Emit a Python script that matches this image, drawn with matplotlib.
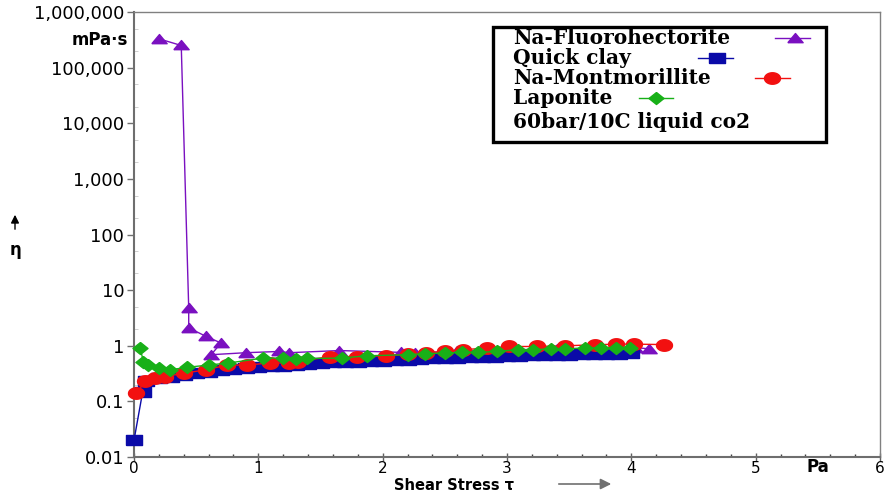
import numpy as np
import matplotlib
matplotlib.use('Agg')
import matplotlib.pyplot as plt
from matplotlib.patches import Rectangle, FancyArrowPatch
from matplotlib.lines import Line2D
from matplotlib.ticker import FixedLocator, FixedFormatter

# --- data (shear stress in Pa, viscosity in mPa*s) ---
fluoro_x = [0.20, 0.38, 0.44, 0.44, 0.58, 0.70, 0.62, 0.90, 1.17, 1.25, 1.65,
            2.15, 2.26, 2.60, 3.00, 3.40, 3.75, 4.03, 4.14]
fluoro_y = [3.3e5, 2.5e5, 4.8, 2.1, 1.47, 1.12, 0.69, 0.75, 0.79, 0.75, 0.82,
            0.76, 0.75, 0.80, 0.84, 0.88, 0.90, 0.93, 0.88]

quick_x = [0.0, 0.07, 0.1, 0.2, 0.3, 0.4, 0.5, 0.6, 0.7, 0.8, 0.9, 1.0,
           1.1, 1.2, 1.3, 1.4, 1.5, 1.6, 1.7, 1.8, 1.9, 2.0, 2.1, 2.2,
           2.3, 2.4, 2.5, 2.6, 2.7, 2.8, 2.9, 3.0, 3.1, 3.2, 3.3, 3.4,
           3.5, 3.6, 3.7, 3.8, 3.9, 4.0]
quick_y = [0.02, 0.15, 0.23, 0.26, 0.28, 0.30, 0.32, 0.34, 0.36, 0.38, 0.39, 0.41,
           0.43, 0.44, 0.46, 0.47, 0.49, 0.50, 0.51, 0.52, 0.53, 0.54, 0.55, 0.56,
           0.58, 0.59, 0.60, 0.61, 0.62, 0.63, 0.64, 0.65, 0.66, 0.67, 0.68, 0.69,
           0.69, 0.70, 0.71, 0.72, 0.72, 0.73]

montm_x = [0.02, 0.09, 0.17, 0.25, 0.40, 0.58, 0.75, 0.91, 1.09, 1.25, 1.32,
           1.58, 1.79, 2.03, 2.20, 2.35, 2.50, 2.65, 2.84, 3.02, 3.24, 3.47,
           3.71, 3.88, 4.02, 4.26]
montm_y = [0.14, 0.23, 0.26, 0.28, 0.32, 0.37, 0.45, 0.45, 0.49, 0.49, 0.52,
           0.64, 0.64, 0.66, 0.70, 0.74, 0.79, 0.85, 0.91, 0.97, 0.97, 1.00,
           1.04, 1.07, 1.07, 1.05]

lapo_x = [0.05, 0.075, 0.11, 0.20, 0.29, 0.43, 0.60, 0.76, 1.04, 1.20, 1.30,
          1.39, 1.67, 1.87, 2.20, 2.34, 2.50, 2.64, 2.77, 2.92, 3.09, 3.21,
          3.35, 3.47, 3.63, 3.76, 3.88, 3.99]
lapo_y = [0.91, 0.52, 0.45, 0.40, 0.37, 0.41, 0.45, 0.49, 0.60, 0.60, 0.58,
          0.59, 0.60, 0.66, 0.69, 0.72, 0.74, 0.76, 0.76, 0.79, 0.85, 0.85,
          0.88, 0.88, 0.91, 0.91, 0.93, 0.93]

y_ticks = [0.01, 0.1, 1, 10, 100, 1e3, 1e4, 1e5, 1e6]
y_labels = ['0.01', '0.1', '1', '10', '100', '1,000', '10,000', '100,000', '1,000,000']
x_ticks = [0, 1, 2, 3, 4, 5, 6]

names = ['Na-Fluorohectorite', 'Quick clay', 'Na-Montmorillite', 'Laponite']
note = '60bar/10C liquid co2'

# colours
c_purple = '#7a10c0'
c_blue = '#0a0aa8'
c_red = '#f21010'
c_green = '#18b018'

# stretched marker shapes (the source image is stretched sideways)
tri = [(-1, -0.55), (1, -0.55), (0, 0.65), (-1, -0.55)]
sq = [(-1, -0.65), (1, -0.65), (1, 0.65), (-1, 0.65), (-1, -0.65)]
t = np.linspace(0, 2 * np.pi, 40)
ell = list(zip(np.cos(t), 0.72 * np.sin(t)))
dia = [(0, 0.8), (1, 0), (0, -0.8), (-1, 0), (0, 0.8)]

W, H = 886, 493
fig = plt.figure(figsize=(W / 100, H / 100), dpi=100)
ax = fig.add_axes([134 / W, 1 - 457 / H, (880 - 134) / W, (457 - 12) / H])


def px(x, y):  # reference pixel -> figure fraction
    return x / W, 1 - y / H


ax.plot(fluoro_x, fluoro_y, color=c_purple, lw=1, marker=tri, ms=11,
        mec=c_purple, mfc=c_purple, zorder=2, clip_on=False)
ax.plot(quick_x, quick_y, color=c_blue, lw=1, marker=sq, ms=11.5,
        mec=c_blue, mfc=c_blue, zorder=3, clip_on=False)
ax.plot(montm_x, montm_y, color=c_red, lw=1, marker=ell, ms=11.5,
        mec=c_red, mfc=c_red, zorder=4, clip_on=False)
ax.plot(lapo_x, lapo_y, color=c_green, lw=1, marker=dia, ms=10.8,
        mec=c_green, mfc=c_green, zorder=5, clip_on=False)

ax.set_yscale('log')
ax.set_ylim(0.01, 1e6)
ax.set_xlim(0, 6)
ax.yaxis.set_major_locator(FixedLocator(y_ticks))
ax.yaxis.set_major_formatter(FixedFormatter(y_labels))
ax.yaxis.set_minor_locator(FixedLocator([m * 10.0 ** e for e in range(-2, 6) for m in (2, 5)]))
ax.set_xticks(x_ticks)
ax.set_xticks(np.arange(0, 6.01, 0.2), minor=True)

ax.tick_params(axis='y', which='major', direction='out', length=5, width=1,
               color='#707070', labelsize=13, pad=2)
ax.tick_params(axis='y', which='minor', direction='in', length=3, width=0.6,
               color='#c8c8c8')
ax.tick_params(axis='x', which='major', direction='inout', length=6, width=1,
               color='#606060', labelsize=11, pad=0)
ax.tick_params(axis='x', which='minor', direction='in', length=2, width=1,
               color='#404040')

for side in ['left', 'bottom']:
    ax.spines[side].set_color('#6e6e6e')
    ax.spines[side].set_linewidth(1.5)
for side in ['top', 'right']:
    ax.spines[side].set_color('#808080')
    ax.spines[side].set_linewidth(1)

# axis annotations
fig.text(*px(128, 40), 'mPa·s', ha='right', va='center', fontsize=12,
         fontweight='bold')
fig.text(*px(818, 467), 'Pa', ha='center', va='center', fontsize=12,
         fontweight='bold')
fig.text(*px(15, 250), 'η', ha='center', va='center', fontsize=12,
         fontweight='bold')
fig.add_artist(FancyArrowPatch(px(15, 232), px(15, 212),
                               transform=fig.transFigure, arrowstyle='-|>',
                               mutation_scale=12, color='black', lw=1))
fig.text(*px(454, 485), 'Shear Stress τ', ha='center', va='center',
         fontsize=10.5, fontweight='bold')
fig.add_artist(FancyArrowPatch(px(556, 484), px(614, 484),
                               transform=fig.transFigure, arrowstyle='-|>',
                               mutation_scale=16, color='#707070', lw=1.2))

# legend box drawn by hand
x0, y0 = px(493, 142)
x1, y1 = px(826, 27)
fig.add_artist(Rectangle((x0, y0), x1 - x0, y1 - y0, transform=fig.transFigure,
                         fill=True, facecolor='white', edgecolor='black',
                         lw=2.4, zorder=6))
rows_y = [38, 58, 78, 98]
handles = [(775, 810, 795, tri, c_purple, 11),
           (698, 733, 717, sq, c_blue, 11.5),
           (755, 790, 772, ell, c_red, 11.5),
           (639, 673, 656, dia, c_green, 10.8)]
for name, ry, (la, lb, mx, mk, col, ms) in zip(names, rows_y, handles):
    fig.text(*px(513, ry), name, ha='left', va='center', fontsize=14.5,
             fontweight='bold', family='DejaVu Serif', zorder=7)
    fig.add_artist(Line2D([px(la, 0)[0], px(lb, 0)[0]], [px(0, ry)[1]] * 2,
                          transform=fig.transFigure, color=col, lw=1, zorder=7))
    fig.add_artist(Line2D([px(mx, 0)[0]], [px(0, ry)[1]], marker=mk, ms=ms,
                          transform=fig.transFigure, color=col, lw=0, zorder=8))
fig.text(*px(513, 122), note, ha='left', va='center', fontsize=14.5,
         fontweight='bold', family='DejaVu Serif', zorder=7)

fig.savefig('out.png', dpi=100)
